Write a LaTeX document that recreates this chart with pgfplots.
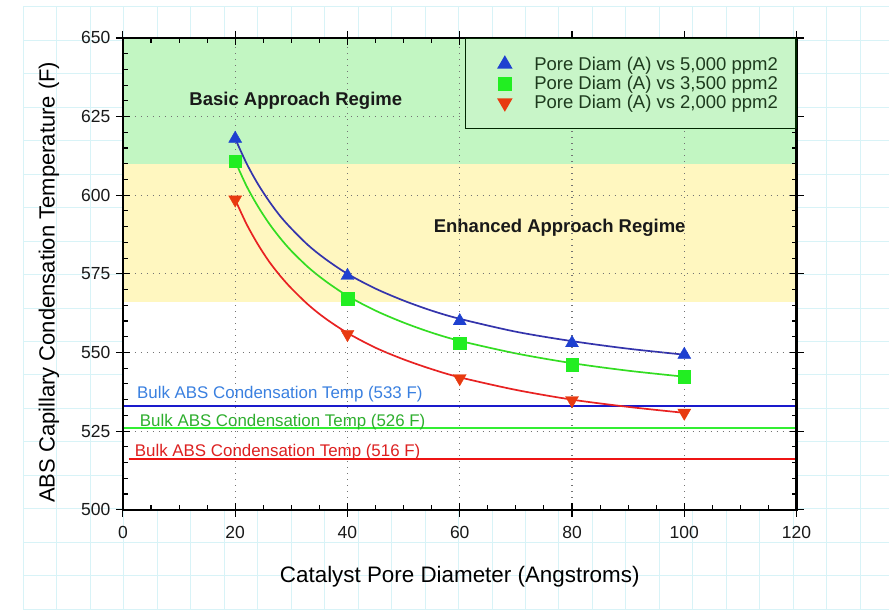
\documentclass[border=0pt]{standalone}
\usepackage{pgfplots}
\pgfplotsset{compat=1.18}
\usepackage{fontspec}
\setmainfont{Liberation Sans}

\definecolor{paper}{HTML}{D8F3F7}
\definecolor{bandgreen}{HTML}{C2F6C2}
\definecolor{bandyellow}{HTML}{FFF7C0}
\definecolor{legfill}{HTML}{C8F5C8}
\definecolor{legtext}{HTML}{1E3B1E}
\definecolor{curveblue}{HTML}{3434AC}
\definecolor{curvegreen}{HTML}{33DD22}
\definecolor{curvered}{HTML}{E82222}
\definecolor{markblue}{HTML}{1E40D0}
\definecolor{markgreen}{HTML}{22EE22}
\definecolor{markred}{HTML}{E83A10}
\definecolor{lineblue}{HTML}{1A1ACC}
\definecolor{linegreen}{HTML}{33EE33}
\definecolor{linered}{HTML}{EE1414}
\definecolor{labblue}{HTML}{3A80E0}
\definecolor{labgreen}{HTML}{2EAE2E}
\definecolor{labred}{HTML}{DD2020}

% measured points: pore diameter (A) vs capillary condensation temperature (F)
\pgfplotstableread{
d    t
20   618
40   574.4
60   560
80   553
100  549.3
}\highppm
\pgfplotstableread{
d    t
20   610.8
40   567.1
60   553
80   546.1
100  542.3
}\midppm
\pgfplotstableread{
d    t
20   598.6
40   555.8
60   541.8
80   534.8
100  530.8
}\lowppm

% fitted curves through the points
\pgfplotstableread{
d    t
20   618
22   610.2
24   603.7
26   598.2
28   593.4
30   589.4
33   584.1
36   579.8
40   575.0
45   570.3
50   566.5
55   563.3
60   560.7
70   556.6
80   553.6
90   551.2
100  549.3
}\highfit
\pgfplotstableread{
d    t
20   610.8
22   603.0
24   596.6
26   591.1
28   586.4
30   582.3
33   577.1
36   572.8
40   568.0
45   563.3
50   559.5
55   556.3
60   553.7
70   549.7
80   546.6
90   544.2
100  542.3
}\midfit
\pgfplotstableread{
d    t
20   598.6
22   590.9
24   584.5
26   579.0
28   574.4
30   570.4
33   565.2
36   560.9
40   556.2
45   551.5
50   547.8
55   544.7
60   542.1
70   538.1
80   535.0
90   532.7
100  530.8
}\lowfit

\begin{document}
\begin{tikzpicture}[x=1pt,y=1pt]
% graph-paper backdrop
\fill[white] (0,0) rectangle (889,610);
\foreach \i in {0,...,25}
  \draw[paper, line width=1pt] ({23.3+33.5*\i},0) -- ({23.3+33.5*\i},603.3);
\foreach \j in {0,...,18}
  \draw[paper, line width=1pt] (23.3,{603.3-33.5*\j}) -- (889,{603.3-33.5*\j});

\begin{axis}[
  at={(123pt,100pt)}, anchor=south west,
  scale only axis, width=674pt, height=472pt,
  axis on top,
  axis background/.style={fill=white},
  xmin=0, xmax=120, ymin=500, ymax=650,
  xtick={0,20,...,120}, ytick={500,525,...,650},
  minor x tick num=3, minor y tick num=4,
  tick align=inside, major tick length=7pt, minor tick length=5pt,
  extra x ticks={0,20,...,120}, extra y ticks={500,525,...,650},
  extra x tick labels={}, extra y tick labels={},
  extra tick style={tick align=outside, major tick length=7pt, grid=none},
  tick style={black, line width=1.1pt},
  axis line style={black, line width=2.2pt},
  grid=major,
  major grid style={black!55, line width=1.1pt, dash pattern=on 1.1pt off 4.9pt},
  /pgf/number format/assume math mode=true,
  ticklabel style={font=\fontsize{17.5}{20}\selectfont, text=black!90},
  xticklabel style={yshift=-13pt},
  yticklabel style={xshift=-9pt},
  xlabel={Catalyst Pore Diameter (Angstroms)},
  ylabel={ABS Capillary Condensation Temperature (F)},
  every axis x label/.style={at={(rel axis cs:0.5,0)}, anchor=center, yshift=-67pt,
    font=\fontsize{22.4}{26}\selectfont},
  every axis y label/.style={at={(rel axis cs:0,0.5)}, anchor=center,
    xshift=-74pt, yshift=-8.5pt, rotate=90, font=\fontsize{22}{26}\selectfont},
  legend style={at={(rel axis cs:1,1)}, anchor=north east,
    fill=legfill, draw=black!85!green, line width=1.4pt,
    font=\fontsize{18.5}{20}\selectfont, text=legtext,
    inner xsep=16pt, inner ysep=16pt, row sep=0.5pt},
  legend cell align=left,
  legend image code/.code={%
    \path[draw=none, fill=none] (0pt,0pt) -- (51pt,0pt);
    \draw[#1] plot coordinates {(23.5pt,0pt)};},
]
% the two regime bands
\addplot[draw=none, fill=bandgreen, forget plot]
  coordinates {(0,610) (120,610) (120,650) (0,650)} -- cycle;
\addplot[draw=none, fill=bandyellow, forget plot]
  coordinates {(0,566) (120,566) (120,610) (0,610)} -- cycle;

% bulk condensation temperatures
\addplot[lineblue, line width=2.2pt, forget plot] coordinates {(0,533) (120,533)};
\addplot[linegreen, line width=2.2pt, forget plot] coordinates {(0,526) (120,526)};
\addplot[linered, line width=2.2pt, forget plot] coordinates {(1,516) (120,516)};

% fitted curves
\addplot[curveblue, line width=1.7pt, smooth, forget plot] table[x=d, y=t] {\highfit};
\addplot[curvegreen, line width=1.7pt, smooth, forget plot] table[x=d, y=t] {\midfit};
\addplot[curvered, line width=1.7pt, smooth, forget plot] table[x=d, y=t] {\lowfit};

% measured points
\addplot[only marks, mark=triangle*, mark size=7.5pt, draw=markblue, fill=markblue]
  table[x=d, y=t] {\highppm};
\addlegendentry{Pore Diam (A) vs 5,000 ppm2}
\addplot[only marks, mark=square*, mark size=6.3pt, draw=markgreen, fill=markgreen]
  table[x=d, y=t] {\midppm};
\addlegendentry{Pore Diam (A) vs 3,500 ppm2}
\addplot[only marks, mark=triangle*, mark size=7.5pt, mark options={rotate=180},
  draw=markred, fill=markred] table[x=d, y=t] {\lowppm};
\addlegendentry{Pore Diam (A) vs 2,000 ppm2}

% annotations
\node[font=\bfseries\fontsize{18.5}{20}\selectfont, text=black!90]
  at (axis cs:30.8,630) {Basic Approach Regime};
\node[font=\bfseries\fontsize{18.5}{20}\selectfont, text=black!90]
  at (axis cs:77.8,589.6) {Enhanced Approach Regime};
\node[anchor=west, inner sep=0pt, font=\fontsize{16.9}{18}\selectfont, text=labblue]
  at (axis cs:2.5,536.6) {Bulk ABS Condensation Temp (533 F)};
\node[anchor=west, inner sep=0pt, font=\fontsize{16.9}{18}\selectfont, text=labgreen]
  at (axis cs:3.0,527.7) {Bulk ABS Condensation Temp (526 F)};
\node[anchor=west, inner sep=0pt, font=\fontsize{16.9}{18}\selectfont, text=labred]
  at (axis cs:2.1,518.4) {Bulk ABS Condensation Temp (516 F)};

% plot frame
\draw[black, line width=2.2pt] (rel axis cs:0,0) rectangle (rel axis cs:1,1);
\end{axis}
\end{tikzpicture}
\end{document}
